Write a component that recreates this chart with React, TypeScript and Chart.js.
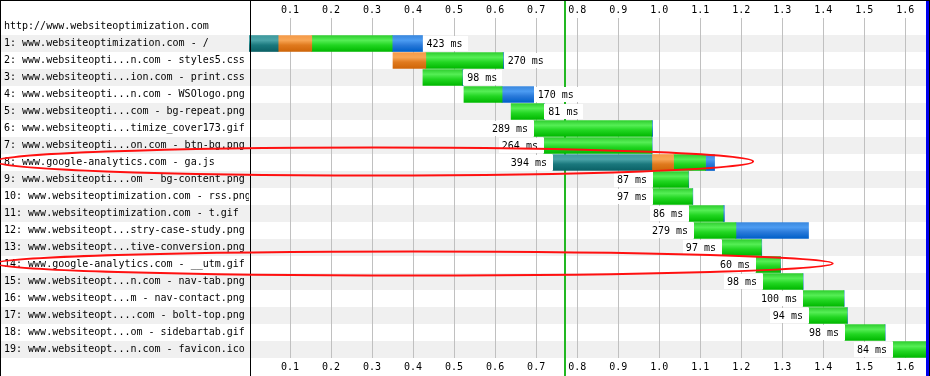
import React, { useEffect, useRef } from 'react';
import { Chart, registerables } from 'chart.js';

Chart.register(...registerables);

// ---- data ----
const pageUrl = 'http://www.websiteoptimization.com';
const requestLabels = [
  '1: www.websiteoptimization.com - /',
  '2: www.websiteopti...n.com - styles5.css',
  '3: www.websiteopti...ion.com - print.css',
  '4: www.websiteopti...n.com - WSOlogo.png',
  '5: www.websiteopti...com - bg-repeat.png',
  '6: www.websiteopti...timize_cover173.gif',
  '7: www.websiteopti...on.com - btn-bg.png',
  '8: www.google-analytics.com - ga.js',
  '9: www.websiteopti...om - bg-content.png',
  '10: www.websiteoptimization.com - rss.png',
  '11: www.websiteoptimization.com - t.gif',
  '12: www.websiteopt...stry-case-study.png',
  '13: www.websiteopt...tive-conversion.png',
  '14: www.google-analytics.com - __utm.gif',
  '15: www.websiteopt...n.com - nav-tab.png',
  '16: www.websiteopt...m - nav-contact.png',
  '17: www.websiteopt....com - bolt-top.png',
  '18: www.websiteopt...om - sidebartab.gif',
  '19: www.websiteopt...n.com - favicon.ico',
];
// seconds
const startTimes = [0, 0.351, 0.424, 0.524, 0.639, 0.695, 0.719, 0.741, 0.985, 0.985, 1.073, 1.085, 1.153, 1.236, 1.253, 1.351, 1.365, 1.453, 1.57];
const dnsTimes = [0.071, 0, 0, 0, 0, 0, 0, 0.241, 0, 0, 0, 0, 0, 0, 0, 0, 0, 0, 0];
const connectTimes = [0.082, 0.08, 0, 0, 0, 0, 0, 0.053, 0, 0, 0, 0, 0, 0, 0, 0, 0, 0, 0];
const ttfbTimes = [0.196, 0.188, 0.096, 0.093, 0.08, 0.287, 0.263, 0.078, 0.086, 0.096, 0.083, 0.102, 0.096, 0.059, 0.097, 0.099, 0.093, 0.097, 0.084];
const downloadTimes = [0.074, 0.002, 0.002, 0.077, 0.001, 0.002, 0.001, 0.022, 0.001, 0.001, 0.003, 0.177, 0.001, 0.001, 0.001, 0.001, 0.001, 0.001, 0];
const durationsMs = [423, 270, 98, 170, 81, 289, 264, 394, 87, 97, 86, 279, 97, 60, 98, 100, 94, 98, 84];
const tickLabels = ['0.1', '0.2', '0.3', '0.4', '0.5', '0.6', '0.7', '0.8', '0.9', '1.0', '1.1', '1.2', '1.3', '1.4', '1.5', '1.6'];
const startRenderTime = 0.77;
const onloadTime = 1.652;
const axisMax = 1.6577;
const annotatedRows = [8, 14];
const annotationRightEnds = [1.229, 1.423];

// ---- styles ----
const FONT = 'DejaVu Sans Mono';
const phaseStops: string[][] = [
  ['#3f9a9e', '#4ba4a8', '#1a787d', '#0b6166'],
  ['#f59a48', '#f8a655', '#e07a1e', '#cf6508'],
  ['#2fce2f', '#55ee55', '#22d622', '#00b800'],
  ['#3a88de', '#4c9cf2', '#2a7ada', '#005fc8'],
];
const phaseDurations = [dnsTimes, connectTimes, ttfbTimes, downloadTimes];
const ellipseHalfHeights = [14, 12];

const allLabels = [pageUrl, ...requestLabels];

function buildPhaseData(phase: number) {
  const out: ([number, number] | null)[] = [null];
  for (let i = 0; i < startTimes.length; i++) {
    let s = startTimes[i];
    for (let p = 0; p < phase; p++) s += phaseDurations[p][i];
    const d = phaseDurations[phase][i];
    out.push(d > 0 ? [s, s + d] : null);
  }
  return out;
}

const waterfallPlugin = {
  id: 'waterfall',
  beforeDraw(chart: any) {
    const { ctx, width, height } = chart;
    const y = chart.scales.y;
    ctx.save();
    ctx.fillStyle = '#ffffff';
    ctx.fillRect(0, 0, width, height);
    ctx.fillStyle = '#f0f0f0';
    for (let i = 1; i < allLabels.length; i += 2) {
      const c = y.getPixelForValue(i);
      ctx.fillRect(1, Math.round(c - 8.5), width - 2, 17);
    }
    ctx.restore();
  },
  beforeDatasetsDraw(chart: any) {
    const { ctx, height } = chart;
    const x = chart.scales.x;
    ctx.save();
    ctx.fillStyle = '#22b822';
    const gx = Math.round(x.getPixelForValue(startRenderTime));
    ctx.fillRect(gx - 1, 0, 2, height);
    ctx.restore();
  },
  afterDatasetsDraw(chart: any) {
    const { ctx, height } = chart;
    const x = chart.scales.x;
    const y = chart.scales.y;
    ctx.save();
    ctx.font = `10px "${FONT}"`;
    ctx.textBaseline = 'middle';
    for (let i = 0; i < startTimes.length; i++) {
      const start = startTimes[i];
      let end = start;
      for (let p = 0; p < 4; p++) end += phaseDurations[p][i];
      const xs = x.getPixelForValue(start);
      const xe = x.getPixelForValue(end);
      const c = y.getPixelForValue(i + 1);
      const text = `${durationsMs[i]} ms`;
      const w = ctx.measureText(text).width;
      let boxL: number, tx: number;
      if (end > 0.75) {
        tx = xs - 6 - w;
        boxL = tx - 3;
      } else {
        tx = xe + 4;
        boxL = xe;
      }
      ctx.fillStyle = '#ffffff';
      ctx.fillRect(Math.round(boxL), Math.round(c - 7.5), Math.round(w + 9), 15);
      ctx.fillStyle = '#000000';
      ctx.textAlign = 'left';
      ctx.fillText(text, tx, c + 0.5);
    }
    // onload line
    ctx.fillStyle = '#0000ee';
    const bx = Math.round(x.getPixelForValue(onloadTime));
    ctx.fillRect(bx - 1, 0, 3, height);
    ctx.restore();
  },
  afterDraw(chart: any) {
    const { ctx, width, height } = chart;
    const x = chart.scales.x;
    const y = chart.scales.y;
    ctx.save();
    ctx.fillStyle = '#000000';
    ctx.fillRect(0, 0, width, 1);
    ctx.fillRect(0, 0, 1, height);
    ctx.fillRect(width - 1, 0, 1, height);
    ctx.fillRect(250, 0, 1, height);
    ctx.strokeStyle = '#ff1010';
    ctx.lineWidth = 2;
    for (let k = 0; k < annotatedRows.length; k++) {
      const cy = y.getPixelForValue(annotatedRows[k]) - 1;
      const rx = x.getPixelForValue(annotationRightEnds[k]);
      const lx = -5;
      ctx.beginPath();
      ctx.ellipse((lx + rx) / 2, cy, (rx - lx) / 2, ellipseHalfHeights[k], 0, 0, Math.PI * 2);
      ctx.stroke();
    }
    ctx.restore();
  },
};

function makeGradient(chart: any, index: number, stops: string[]) {
  const y = chart.scales && chart.scales.y;
  if (!y || !chart.chartArea) return stops[2];
  const c = y.getPixelForValue(index);
  if (!Number.isFinite(c)) return stops[2];
  const g = chart.ctx.createLinearGradient(0, c - 8, 0, c + 8);
  g.addColorStop(0, stops[0]);
  g.addColorStop(0.3, stops[1]);
  g.addColorStop(0.6, stops[2]);
  g.addColorStop(1, stops[3]);
  return g;
}

export default function App() {
  const ref = useRef<HTMLCanvasElement>(null);
  useEffect(() => {
    if (!ref.current) return;
    const tickValues = tickLabels.map((t) => parseFloat(t));
    const xCommon = {
      type: 'linear' as const,
      min: 0,
      max: axisMax,
      afterBuildTicks: (scale: any) => {
        scale.ticks = tickValues.map((v) => ({ value: v }));
      },
      afterFit: (scale: any) => {
        scale.height = 18;
      },
      border: { display: false },
    };
    const chart = new Chart(ref.current, {
      type: 'bar',
      data: {
        labels: allLabels,
        datasets: phaseStops.map((stops, p) => ({
          label: ['dns', 'connect', 'ttfb', 'download'][p],
          data: buildPhaseData(p) as any,
          backgroundColor: (ctx: any) => makeGradient(ctx.chart, ctx.dataIndex, stops),
          borderWidth: 0,
          barThickness: 16,
          grouped: false,
          xAxisID: 'x',
        })),
      },
      options: {
        indexAxis: 'y',
        animation: false,
        responsive: false,
        events: [],
        layout: { padding: { left: 4, right: 1, top: 0, bottom: 0 } },
        plugins: { legend: { display: false }, tooltip: { enabled: false } },
        scales: {
          x: {
            ...xCommon,
            position: 'bottom',
            grid: { color: '#c0c0c0', lineWidth: 1, drawTicks: false },
            ticks: {
              padding: 3,
              color: '#000000',
              font: { family: FONT, size: 10 },
              callback: (v: any) => Number(v).toFixed(1),
            },
          },
          xTop: {
            ...xCommon,
            position: 'top',
            grid: { display: false, drawTicks: false },
            ticks: {
              padding: 2,
              color: '#000000',
              font: { family: FONT, size: 10 },
              callback: (v: any) => Number(v).toFixed(1),
            },
          },
          y: {
            type: 'category',
            position: 'left',
            grid: { display: false, drawTicks: false },
            border: { display: false },
            afterFit: (scale: any) => {
              scale.width = 245;
            },
            ticks: {
              autoSkip: false,
              crossAlign: 'far',
              padding: 0,
              color: '#000000',
              font: { family: FONT, size: 10 },
            },
          },
        },
      } as any,
      plugins: [waterfallPlugin],
    });
    return () => chart.destroy();
  }, []);
  return (
    <div style={{ position: 'absolute', left: 0, top: 0, width: 930, height: 376 }}>
      <canvas ref={ref} width={930} height={376} style={{ display: 'block', width: 930, height: 376 }} />
    </div>
  );
}
